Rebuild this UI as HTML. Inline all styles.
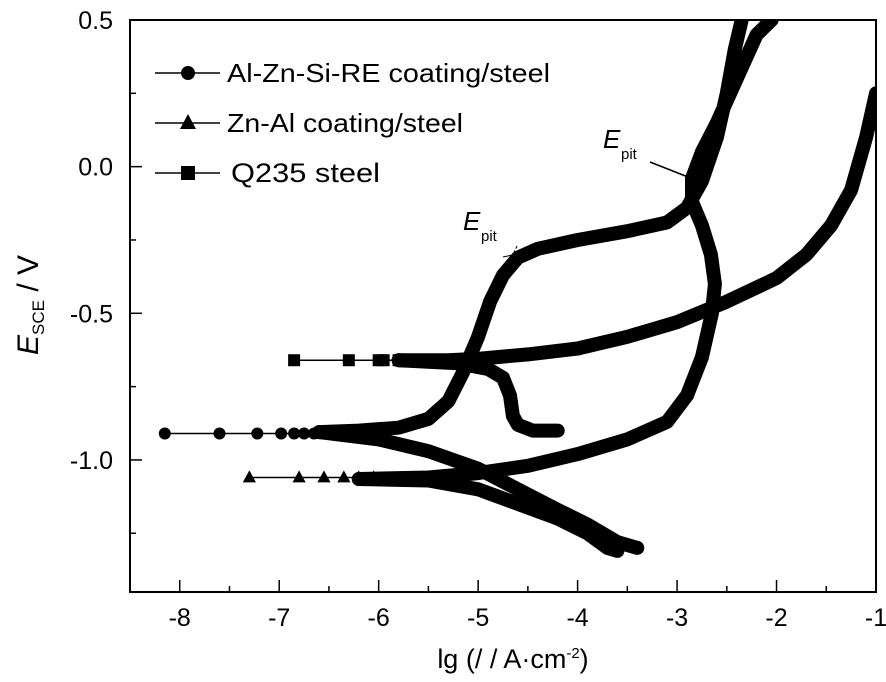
<!DOCTYPE html>
<html><head><meta charset="utf-8"><style>
body{margin:0;background:#fff;width:886px;height:677px;overflow:hidden}
svg text{font-family:"Liberation Sans",Arial,sans-serif;fill:#000}
</style></head><body>
<svg id="chart" width="886" height="677" viewBox="0 0 886 677" xmlns="http://www.w3.org/2000/svg">
<g id="plot"></g>
<g id="axes"></g>
</svg>
<script>
const xTicks=[-8,-7,-6,-5,-4,-3,-2,-1];
const yTicks=[0.5,0.0,-0.5,-1.0];
const yTickLabels=["0.5","0.0","-0.5","-1.0"];
const alznX=[-6.6,-6.2,-5.8,-5.5,-5.3,-5.15,-5.0,-4.88,-4.75,-4.6,-4.4,-4.0,-3.5,-3.1,-2.9,-2.75,-2.6,-2.5,-2.42,-2.35];
const alznY=[-0.905,-0.9,-0.89,-0.86,-0.8,-0.7,-0.58,-0.46,-0.37,-0.31,-0.28,-0.25,-0.22,-0.19,-0.14,-0.05,0.1,0.25,0.4,0.5];
const alznCathX=[-6.6,-6.0,-5.5,-5.0,-4.6,-4.2,-3.9,-3.6,-3.4];
const alznCathY=[-0.905,-0.93,-0.97,-1.03,-1.1,-1.17,-1.22,-1.28,-1.3];
const alznMarkX=[-8.15,-7.6,-7.22,-6.98,-6.85,-6.75,-6.65];
const alznMarkY=-0.91;
const znalX=[-6.2,-5.5,-5.0,-4.5,-4.0,-3.5,-3.1,-2.9,-2.75,-2.65,-2.62,-2.66,-2.75,-2.85,-2.85,-2.75,-2.6,-2.4,-2.2,-2.05];
const znalY=[-1.065,-1.06,-1.045,-1.02,-0.98,-0.93,-0.87,-0.78,-0.65,-0.5,-0.4,-0.3,-0.2,-0.12,-0.04,0.05,0.15,0.3,0.45,0.5];
const znalCathX=[-6.2,-5.5,-5.0,-4.6,-4.2,-3.9,-3.7,-3.6];
const znalCathY=[-1.065,-1.07,-1.1,-1.15,-1.2,-1.25,-1.3,-1.31];
const znalMarkX=[-7.3,-6.8,-6.55,-6.35,-6.2,-6.05];
const znalMarkY=-1.06;
const q235X=[-5.8,-5.3,-5.0,-4.5,-4.0,-3.5,-3.0,-2.5,-2.0,-1.7,-1.45,-1.25,-1.1,-1.0];
const q235Y=[-0.66,-0.66,-0.655,-0.64,-0.62,-0.58,-0.53,-0.46,-0.38,-0.3,-0.2,-0.08,0.1,0.25];
const q235CathX=[-5.8,-5.2,-4.9,-4.75,-4.68,-4.65,-4.6,-4.45,-4.2];
const q235CathY=[-0.66,-0.67,-0.69,-0.72,-0.78,-0.85,-0.88,-0.9,-0.9];
const q235MarkX=[-6.85,-6.3,-6.0,-5.95,-5.8,-5.7];
const q235MarkY=-0.66;

const L=130,R=876,T=20,B=592;
const X=v=>L+(v+8.5)*(R-L)/7.5;
const Y=v=>T+(0.5-v)*293.3;
const NS="http://www.w3.org/2000/svg";
const plot=document.getElementById('plot'),axes=document.getElementById('axes');
function mk(tag,attrs,parent){const e=document.createElementNS(NS,tag);for(const k in attrs)e.setAttribute(k,attrs[k]);parent.appendChild(e);return e;}
const cp=mk('clipPath',{id:'cp'},document.getElementById('chart'));mk('rect',{x:L,y:T,width:R-L,height:B-T},cp);
plot.setAttribute('clip-path','url(#cp)');
function curve(xs,ys,name){const d=xs.map((x,i)=>(i?'L':'M')+X(x).toFixed(1)+','+Y(ys[i]).toFixed(1)).join(' ');
const p=mk('path',{d:d,fill:'none',stroke:'#000','stroke-width':14,'stroke-linejoin':'round','stroke-linecap':'round'},plot);

}
function marker(type,cx,cy,s,parent){
 if(type==='c')return mk('circle',{cx:cx,cy:cy,r:s},parent);
 if(type==='t')return mk('polygon',{points:`${cx},${cy-s*1.2} ${cx-s*1.1},${cy+s*0.8} ${cx+s*1.1},${cy+s*0.8}`},parent);
 return mk('rect',{x:cx-s,y:cy-s,width:2*s,height:2*s},parent);}
function marks(xs,y,type,endX,name){
 mk('line',{x1:X(xs[0]),y1:Y(y),x2:X(endX),y2:Y(y),stroke:'#000','stroke-width':1.5},plot);
 xs.forEach(x=>{const m=marker(type,X(x),Y(y),6,plot);
 
 });}
curve(alznX,alznY,'alznsire-anodic-curve');curve(alznCathX,alznCathY,'alznsire-cathodic-curve');
curve(znalX,znalY,'znal-anodic-curve');curve(znalCathX,znalCathY,'znal-cathodic-curve');
curve(q235X,q235Y,'q235-anodic-curve');curve(q235CathX,q235CathY,'q235-cathodic-curve');
marks(alznMarkX,alznMarkY,'c',-6.6,'alznsire-marker');
marks(znalMarkX,znalMarkY,'t',-6.2,'znal-marker');
marks(q235MarkX,q235MarkY,'s',-5.8,'q235-marker');
mk('rect',{x:L,y:T,width:R-L,height:B-T,fill:'none',stroke:'#000','stroke-width':2},axes);
xTicks.forEach(v=>{const x=X(v);mk('line',{x1:x,y1:B,x2:x,y2:B-12,stroke:'#000','stroke-width':1.5},axes);
 mk('line',{x1:X(v+0.5),y1:B,x2:X(v+0.5),y2:B-6,stroke:'#000','stroke-width':1.5},axes);
 const t=mk('text',{x:x,y:B+34,'text-anchor':'middle','font-size':25},axes);t.textContent=String(v);
 
 });
yTicks.forEach((v,i)=>{const y=Y(v);mk('line',{x1:L,y1:y,x2:L+12,y2:y,stroke:'#000','stroke-width':1.5},axes);
 mk('line',{x1:L,y1:Y(v-0.25),x2:L+6,y2:Y(v-0.25),stroke:'#000','stroke-width':1.5},axes);
 const t=mk('text',{x:113,y:y+9,'text-anchor':'end','font-size':25},axes);t.textContent=yTickLabels[i];
 
 });
</script>
<svg style="position:absolute;left:0;top:0" width="886" height="677">
<text x="513" y="668" text-anchor="middle" font-size="27">lg (/ / A·cm<tspan font-size="15" dy="-10">-2</tspan><tspan dy="10">)</tspan></text>
<text transform="translate(38,305) rotate(-90)" text-anchor="middle" font-size="30"><tspan font-style="italic">E</tspan><tspan font-size="17" dy="6">SCE</tspan><tspan dy="-6"> / V</tspan></text>
<g>
<line x1="155" y1="73" x2="220" y2="73" stroke="#000" stroke-width="1.5"/><circle cx="188" cy="73" r="7"/>
<text x="227" y="82" font-size="26" textLength="323" lengthAdjust="spacingAndGlyphs">Al-Zn-Si-RE coating/steel</text>
<line x1="155" y1="123" x2="220" y2="123" stroke="#000" stroke-width="1.5"/><polygon points="188,114 180,129 196,129"/>
<text x="227" y="132" font-size="26" textLength="236" lengthAdjust="spacingAndGlyphs">Zn-Al coating/steel</text>
<line x1="155" y1="173" x2="220" y2="173" stroke="#000" stroke-width="1.5"/><rect x="181" y="166" width="14" height="14"/>
<text x="231" y="182" font-size="27" textLength="149" lengthAdjust="spacingAndGlyphs">Q235 steel</text>
</g>
<g>
<text x="463" y="230" font-size="26" font-style="italic">E</text><text x="481" y="241" font-size="15">pit</text>
<line x1="503" y1="257" x2="545" y2="248" stroke="#000" stroke-width="1"/>
<line x1="517" y1="246" x2="503" y2="275" stroke="#000" stroke-width="1" stroke-dasharray="3,2"/>
</g>
<g>
<text x="603" y="148" font-size="26" font-style="italic">E</text><text x="621" y="159" font-size="15">pit</text>
<line x1="650" y1="162" x2="688" y2="177" stroke="#000" stroke-width="1.5"/>
</g>
</svg>
</body></html>
